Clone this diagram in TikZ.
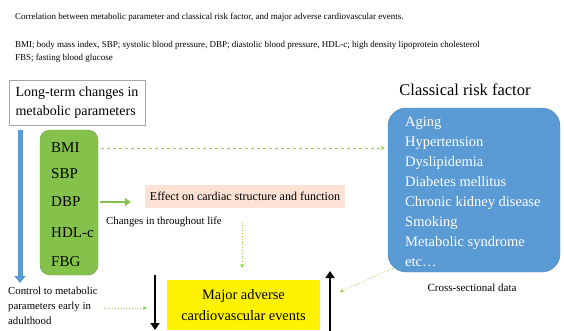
\documentclass[tikz,border=0pt]{standalone}
\usepackage{fontspec}
\setmainfont{Liberation Serif}
\usetikzlibrary{arrows.meta}

\definecolor{paramgreen}{RGB}{132,194,76}
\definecolor{linkgreen}{RGB}{146,208,80}
\definecolor{riskblue}{RGB}{91,155,213}
\definecolor{effectpeach}{RGB}{251,226,212}

\begin{document}
\begin{tikzpicture}[
        x=1pt, y=-1pt,
        note/.style={anchor=west, inner sep=0pt, font=\fontsize{9}{11}\selectfont},
        small text/.style={inner sep=0pt, align=left, font=\fontsize{10.8}{15}\selectfont},
        param/.style={anchor=west, inner sep=0pt, font=\fontsize{15}{16}\selectfont},
        dash link/.style={draw=linkgreen, thick, dashed, -{Stealth[length=4pt,width=4pt]}},
        dot link/.style={draw=linkgreen, thick, dotted, -{Stealth[length=4pt,width=4pt]}},
        big arrow/.style={line width=2.6pt, -{Triangle[length=7pt,width=9pt]}}
    ]
        \useasboundingbox (0,0) rectangle (564,330);

        % legend at the top
        \node[note] (title) at (15,17) {Correlation between metabolic parameter and classical risk factor, and major adverse cardiovascular events.};
        \node[note] (abbr1) at (15,45) {BMI; body mass index, SBP; systolic blood pressure, DBP; diastolic blood pressure, HDL-c; high density lipoprotein cholesterol};
        \node[note] (abbr2) at (15,58) {FBS; fasting blood glucose};

        % left column
        \node[draw=black!35, fill=white, minimum width=136pt, minimum height=45pt, align=left,
              inner xsep=4pt, font=\fontsize{14}{18.5}\selectfont] (longterm) at (77,102.5)
              {Long-term changes in\\metabolic parameters};
        \node[draw=paramgreen!80!black, fill=paramgreen, rounded corners=10pt,
              minimum width=58pt, minimum height=145pt] (params) at (69,202.5) {};
        \node[param] (bmi) at (51,148) {BMI};
        \node[param] (sbp) at (51,174) {SBP};
        \node[param] (dbp) at (51,202) {DBP};
        \node[param] (hdl) at (51,233) {HDL-c};
        \node[param] (fbg) at (51,262) {FBG};

        \coordinate (time top) at (20,130);
        \coordinate (time end) at (20,283);
        \draw[riskblue, line width=5pt, -{Triangle[length=7pt,width=11pt]}] (time top) -- (time end);

        \node[small text, anchor=north west] (control) at (8,287)
              {Control to metabolic\\parameters early in\\adulthood};

        % middle
        \node[fill=effectpeach, minimum width=200pt, minimum height=23pt,
              font=\fontsize{12}{13}\selectfont] (effect) at (245,196.5)
              {Effect on cardiac structure and function};
        \node[small text, anchor=west] (throughout) at (106,222) {Changes in throughout life};
        \node[fill=yellow, minimum width=153pt, minimum height=50pt, align=center,
              font=\fontsize{14.4}{21}\selectfont] (mace) at (243.5,305)
              {Major adverse\\cardiovascular events};

        \coordinate (down top) at (155,275);
        \coordinate (down end) at (155,330);
        \coordinate (up bottom) at (330,331);
        \coordinate (up end) at (330,271);
        \draw[big arrow] (down top) -- (down end);
        \draw[big arrow] (up bottom) -- (up end);

        % right column
        \node[font=\fontsize{16.5}{18}\selectfont] (classical) at (465,90) {Classical risk factor};
        \node[fill=riskblue, draw=riskblue!85!black, rounded corners=18pt,
              minimum width=172pt, minimum height=164pt] (risk) at (474,190) {};
        \node[anchor=north west, inner sep=0pt, align=left, text=white,
              font=\fontsize{14.5}{20}\selectfont] (risklist) at (405,117)
              {Aging\\Hypertension\\Dyslipidemia\\Diabetes mellitus\\Chronic kidney disease\\Smoking\\Metabolic syndrome\\etc\dots};
        \node[font=\fontsize{11}{12}\selectfont] (cross) at (472,288) {Cross-sectional data};

        % links
        \draw[dash link] ([xshift=3pt]params.east |- bmi) -- ([xshift=-3pt]risk.west |- bmi);
        \draw[paramgreen, line width=2pt, -{Triangle[length=6pt,width=8pt]}]
              ([xshift=2pt]params.east |- dbp) -- ([xshift=-14pt]effect.west |- dbp);
        \draw[dot link] (242,222) -- (242,268);
        \draw[dot link] ([xshift=6pt]control.east |- 0,308) -- (147,308);
        \draw[dot link] ([shift={(5pt,4pt)}]risk.south west) -- (340,292);
\end{tikzpicture}
\end{document}
